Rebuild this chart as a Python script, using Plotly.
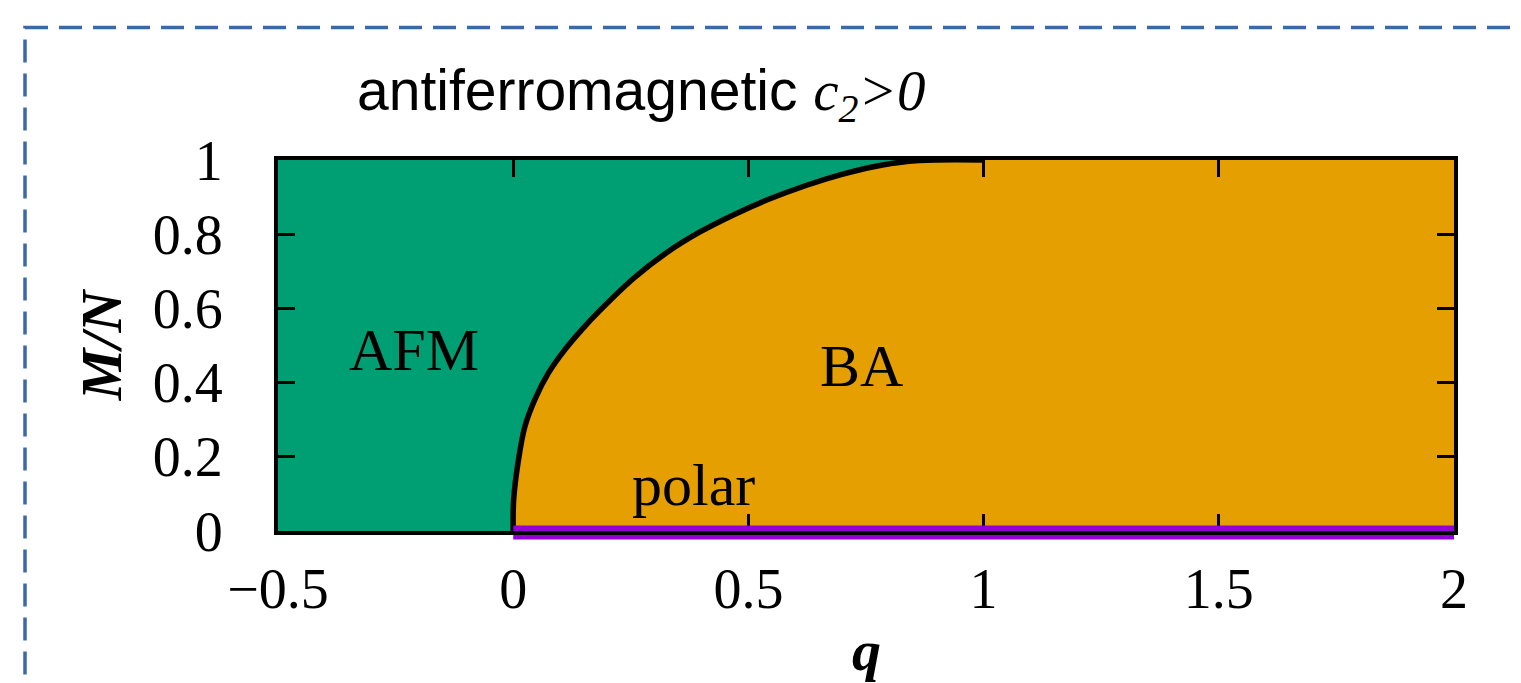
import plotly.graph_objects as go

# ---- data ----
# AFM / BA phase boundary (q, M/N)
boundary_q = [0.0, 0.001, 0.011, 0.025, 0.046, 0.075, 0.110, 0.146, 0.184, 0.255,
              0.326, 0.397, 0.468, 0.539, 0.624, 0.695, 0.766, 0.837, 0.900, 1.000]
boundary_m = [0.0, 0.084, 0.190, 0.282, 0.354, 0.426, 0.489, 0.543, 0.594, 0.680,
              0.750, 0.806, 0.852, 0.892, 0.932, 0.960, 0.982, 0.996, 1.000, 1.000]

# polar phase: M/N = 0 for q in [0, 2]
polar_q = [0.0, 2.0]
polar_m = [0.0, 0.0]

# outer corners of the BA region
ba_corner_q = [2.0, 2.0]
ba_corner_m = [1.0, 0.0]

x_range = [-0.5, 2.0]
y_range = [0.0, 1.0]
x_ticks = [-0.5, 0, 0.5, 1, 1.5, 2]
x_ticktext = ["\u22120.5", "0", "0.5", "1", "1.5", "2"]
y_ticks = [0, 0.2, 0.4, 0.6, 0.8, 1]
y_ticktext = ["0", "0.2", "0.4", "0.6", "0.8", "1"]

phase_labels = ["AFM", "BA", "polar"]
phase_label_q = [-0.211, 0.741, 0.384]
phase_label_m = [0.489, 0.445, 0.125]

GREEN = "#009E73"
ORANGE = "#E69F00"
PURPLE = "#9400D3"
SERIF = "Liberation Serif"
SANS = "Liberation Sans"

W, H = 1521, 683
ML, MR, MT, MB = 278, 67, 160, 152
PW, PH = W - ML - MR, H - MT - MB


def px2paper_x(px):
    return (px - ML) / PW


def px2paper_y(py):
    return (H - MB - py) / PH


def m2paper(m):
    return (m - y_range[0]) / (y_range[1] - y_range[0])


fig = go.Figure()

# BA region (orange)
fig.add_trace(go.Scatter(
    x=boundary_q + ba_corner_q + [boundary_q[0]],
    y=boundary_m + ba_corner_m + [boundary_m[0]],
    mode="lines", fill="toself", fillcolor=ORANGE,
    line=dict(width=0, color=ORANGE), hoverinfo="skip", showlegend=False))

# boundary line
fig.add_trace(go.Scatter(
    x=boundary_q, y=boundary_m, mode="lines",
    line=dict(color="black", width=5.5, shape="spline", smoothing=1.0),
    showlegend=False))

for t, xq, ym in zip(phase_labels, phase_label_q, phase_label_m):
    fig.add_annotation(x=xq, y=ym, xref="x", yref="y", text=t, showarrow=False,
                       font=dict(family=SERIF, size=60, color="black"),
                       xanchor="center", yanchor="middle")

# title
fig.add_annotation(
    xref="paper", yref="paper", x=px2paper_x(355), y=px2paper_y(95),
    xanchor="left", yanchor="middle", showarrow=False,
    text="antiferromagnetic <span style=\"font-family:'Liberation Serif'\"><i>c<sub>2</sub>&gt;0</i></span>",
    font=dict(family=SANS, size=57, color="black"))

# x-axis title, low near the bottom edge as in the reference
fig.add_annotation(
    xref="paper", yref="paper", x=0.5, y=px2paper_y(616),
    xanchor="center", yanchor="top", showarrow=False,
    text="<b><i>q</i></b>",
    font=dict(family=SERIF, size=58, color="black"))

# polar line (not clipped vertically so it straddles the bottom axis)
fig.add_shape(type="line", xref="x", yref="paper",
              x0=polar_q[0], x1=polar_q[1],
              y0=m2paper(polar_m[0]) - 1.5 / PH, y1=m2paper(polar_m[1]) - 1.5 / PH,
              line=dict(color=PURPLE, width=14), layer="above")
# bottom frame line redrawn on top of the polar line
fig.add_shape(type="line", xref="paper", yref="paper",
              x0=px2paper_x(ML - 4), x1=px2paper_x(W - MR + 4),
              y0=px2paper_y(H - MB + 2), y1=px2paper_y(H - MB + 2),
              line=dict(color="black", width=4), layer="above")

# dashed frame around the panel
fig.add_shape(type="rect", xref="paper", yref="paper",
              x0=px2paper_x(25), x1=px2paper_x(1560),
              y0=px2paper_y(27.5), y1=px2paper_y(720),
              line=dict(color="#3B68A9", width=3.5, dash="23px,11px"),
              fillcolor="rgba(0,0,0,0)", layer="above")

axis_common = dict(showline=True, linecolor="black", linewidth=4, mirror="ticks",
                   ticks="inside", ticklen=17, tickwidth=2.5, tickcolor="black",
                   showgrid=False, zeroline=False, automargin=False,
                   tickfont=dict(family=SERIF, size=56, color="black"))

fig.update_xaxes(range=x_range, tickvals=x_ticks, ticktext=x_ticktext,
                 ticklabelstandoff=6, **axis_common)
fig.update_yaxes(range=y_range, tickvals=y_ticks, ticktext=y_ticktext,
                 ticklabelstandoff=40,
                 title=dict(text="M/N", standoff=13,
                            font=dict(family=SERIF, size=58, color="black", style="italic", weight="bold")),
                 **axis_common)

fig.update_layout(width=W, height=H, margin=dict(l=ML, r=MR, t=MT, b=MB, pad=0, autoexpand=False),
                  plot_bgcolor=GREEN, paper_bgcolor="white")

fig.write_html("out.html")
